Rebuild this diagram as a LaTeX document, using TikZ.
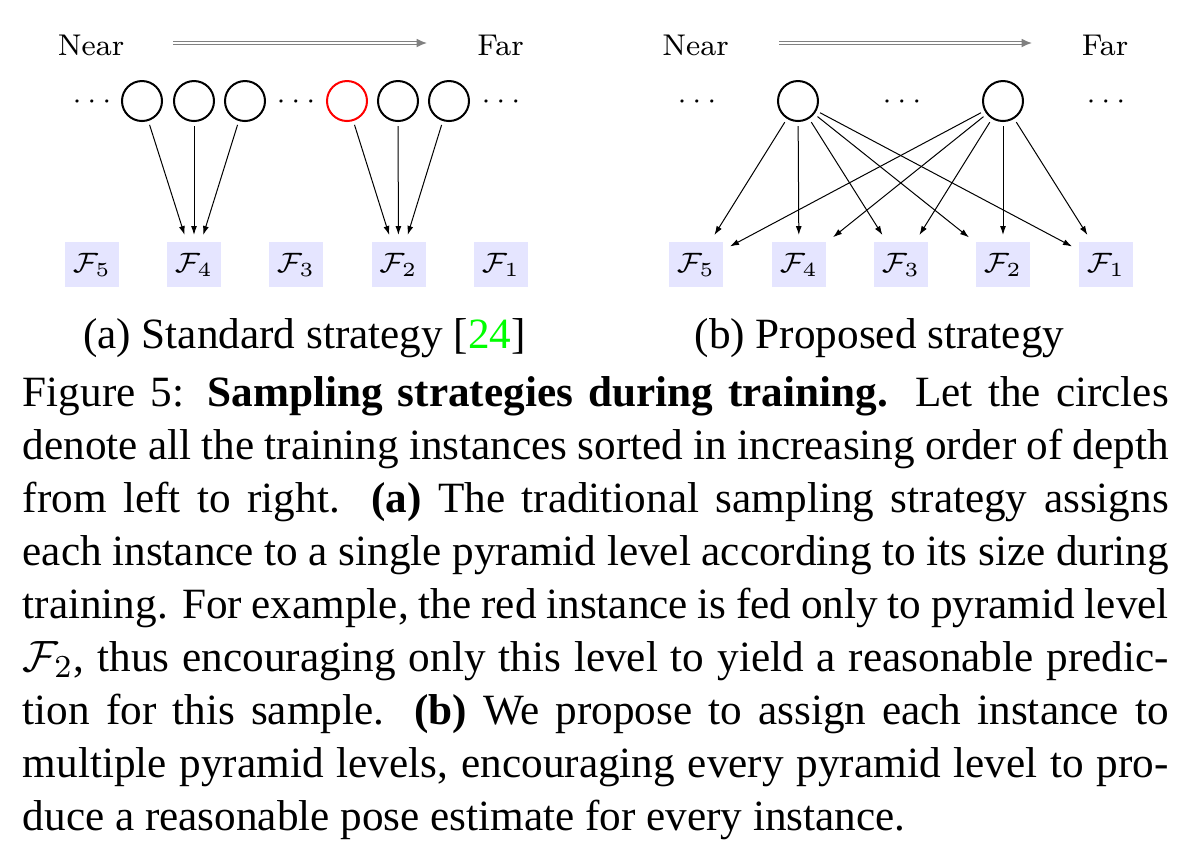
\documentclass[tikz,border=0pt]{standalone}
\usepackage{fontspec}
\newfontfamily\timesf{Liberation Serif}
\usetikzlibrary{arrows.meta}
\newcommand\diagfont{\fontsize{7.5}{9}\selectfont}
\newcommand\capfont{\timesf\fontsize{10.8}{13}\selectfont}
\newcommand\capline[1]{\makebox[286.5pt][s]{#1}}
\begin{document}
\begin{tikzpicture}[x=0.25pt,y=-0.25pt,
  circ/.style={circle,draw,line width=0.5pt,minimum size=10pt,inner sep=0pt,outer sep=1.25pt},
  lvl/.style={fill=blue!10,minimum width=13.5pt,minimum height=11.25pt,inner sep=0pt,outer sep=1.75pt,font=\diagfont},
  lbl/.style={anchor=base,inner sep=0pt,font=\diagfont},
  conn/.style={line width=0.25pt,-{Latex[length=2.25pt,width=1.5pt]}},
  deptharrow/.style={draw=gray,double=white,double distance=0.42pt,line width=0.33pt,-{Latex[length=2.6pt,width=2.2pt]}},
  captext/.style={anchor=base west,inner sep=0pt,font=\capfont},
  subcap/.style={anchor=base,inner sep=0pt,font=\capfont}
]
\useasboundingbox (0,0) rectangle (1180,851);

% ---------- (a) standard strategy ----------
\node[lbl] (nearA) at (91,55) {Near};
\node[lbl] (farA) at (500.5,55) {Far};
\coordinate (arA1) at (173,43);
\coordinate (arA2) at (427,43);
\draw[deptharrow] (arA1) -- (arA2);

\node[lbl] (dA1) at (92,108.5) {$\cdots$};
\node[lbl] (dA2) at (296,108.5) {$\cdots$};
\node[lbl] (dA3) at (501,108.5) {$\cdots$};

\node[circ] (a1) at (142,101) {};
\node[circ] (a2) at (194,101) {};
\node[circ] (a3) at (245,101) {};
\node[circ,draw=red] (a4) at (347,101) {};
\node[circ] (a5) at (398,101) {};
\node[circ] (a6) at (449,101) {};

\node[lvl] (fa5) at (92,264.5) {$\mathcal{F}_5$};
\node[lvl] (fa4) at (194,264.5) {$\mathcal{F}_4$};
\node[lvl] (fa3) at (296,264.5) {$\mathcal{F}_3$};
\node[lvl] (fa2) at (398.5,264.5) {$\mathcal{F}_2$};
\node[lvl] (fa1) at (501,264.5) {$\mathcal{F}_1$};

\draw[conn] (a1) -- (fa4);
\draw[conn] (a2) -- (fa4);
\draw[conn] (a3) -- (fa4);
\draw[conn] (a4) -- (fa2);
\draw[conn] (a5) -- (fa2);
\draw[conn] (a6) -- (fa2);

% ---------- (b) proposed strategy ----------
\node[lbl] (nearB) at (695.5,55) {Near};
\node[lbl] (farB) at (1105,55) {Far};
\coordinate (arB1) at (779,43);
\coordinate (arB2) at (1032,43);
\draw[deptharrow] (arB1) -- (arB2);

\node[lbl] (dB1) at (697,108.5) {$\cdots$};
\node[lbl] (dB2) at (902,108.5) {$\cdots$};
\node[lbl] (dB3) at (1106,108.5) {$\cdots$};

\node[circ] (b1) at (798,101) {};
\node[circ] (b2) at (1003,101) {};

\node[lvl] (fb5) at (696,264.5) {$\mathcal{F}_5$};
\node[lvl] (fb4) at (799,264.5) {$\mathcal{F}_4$};
\node[lvl] (fb3) at (901,264.5) {$\mathcal{F}_3$};
\node[lvl] (fb2) at (1003,264.5) {$\mathcal{F}_2$};
\node[lvl] (fb1) at (1106,264.5) {$\mathcal{F}_1$};

\foreach \s in {b1,b2}{
  \foreach \t in {fb5,fb4,fb3,fb2,fb1}{
    \draw[conn] (\s) -- (\t);
  }
}

% ---------- sub-captions ----------
\node[subcap] (capa) at (304.5,348) {(a) Standard strategy [\textcolor{green}{24}]};
\node[subcap] (capb) at (879.5,348) {(b) Proposed strategy};

% ---------- caption ----------
\node[captext] (c1) at (22,406) {\capline{Figure 5: \textbf{Sampling strategies during training.} Let the circles}};
\node[captext] (c2) at (22,459) {\capline{denote all the training instances sorted in increasing order of depth}};
\node[captext] (c3) at (22,512) {\capline{from left to right. \textbf{(a)} The traditional sampling strategy assigns}};
\node[captext] (c4) at (22,565) {\capline{each instance to a single pyramid level according to its size during}};
\node[captext] (c5) at (22,618) {\capline{training. For example, the red instance is fed only to pyramid level}};
\node[captext] (c6) at (22,671) {\capline{$\mathcal{F}_2$, thus encouraging only this level to yield a reasonable predic-}};
\node[captext] (c7) at (22,724) {\capline{tion for this sample. \textbf{(b)} We propose to assign each instance to}};
\node[captext] (c8) at (22,777) {\capline{multiple pyramid levels, encouraging every pyramid level to pro-}};
\node[captext] (c9) at (22,830) {duce a reasonable pose estimate for every instance.};
\end{tikzpicture}
\end{document}
